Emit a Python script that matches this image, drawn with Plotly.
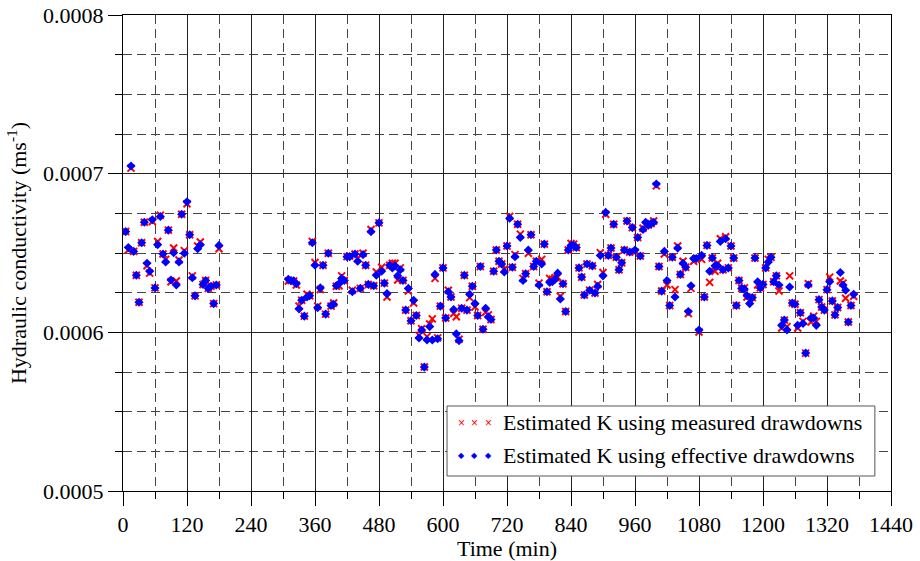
import plotly.graph_objects as go
import numpy as np

# Time (min)
time_min = [
    5, 10, 15, 20, 25, 30, 35, 40, 45, 50, 55, 60, 65, 70, 75, 80, 85, 90, 95, 100,
    105, 110, 115, 120, 125, 130, 135, 140, 145, 150, 155, 160, 165, 170, 175, 180,
    310, 315, 320, 325, 330, 335, 340, 345, 350, 355, 360, 365, 370, 375, 380, 385,
    390, 395, 400, 405, 410, 415, 420, 425, 430, 435, 440, 445, 450, 455, 460, 465,
    470, 475, 480, 485, 490, 495, 500, 505, 510, 515, 520, 525, 530, 535, 540, 545,
    550, 555, 560, 565, 570, 575, 580, 585, 590, 595, 600, 605, 610, 615, 620, 625,
    630, 635, 640, 645, 650, 655, 660, 665, 670, 675, 680, 685, 690, 695, 700, 705,
    710, 715, 720, 725, 730, 735, 740, 745, 750, 755, 760, 765, 770, 775, 780, 785,
    790, 795, 800, 805, 810, 815, 820, 825, 830, 835, 840, 845, 850, 855, 860, 865,
    870, 875, 880, 885, 890, 895, 900, 905, 910, 915, 920, 925, 930, 935, 940, 945,
    950, 955, 960, 965, 970, 975, 980, 985, 990, 995, 1000, 1005, 1010, 1015, 1020, 1025,
    1030, 1035, 1040, 1045, 1050, 1055, 1060, 1065, 1070, 1075, 1080, 1085, 1090, 1095, 1100, 1105,
    1110, 1115, 1120, 1125, 1130, 1135, 1140, 1145, 1150, 1155, 1160, 1165, 1170, 1175, 1180, 1185,
    1190, 1195, 1200, 1205, 1210, 1215, 1220, 1225, 1230, 1235, 1240, 1245, 1250, 1255, 1260, 1265,
    1270, 1275, 1280, 1285, 1290, 1295, 1300, 1305, 1310, 1315, 1320, 1325, 1330, 1335, 1340, 1345,
    1350, 1355, 1360, 1365, 1370,
]

# Estimated K using effective drawdowns (x 1e-6 m/s)
k_effective_e6 = [
    663.5, 653.5, 704.8, 651.0, 636.0, 619.0, 656.5, 669.4, 643.5, 638.5, 671.0, 628.0, 655.2, 673.0, 649.4, 644.4, 664.4, 633.0, 650.2, 629.8,
    644.4, 674.4, 649.8, 682.3, 661.5, 634.4, 623.0, 652.7, 655.2, 630.2, 632.7, 627.7, 629.0, 618.1, 629.8, 654.8,
    633.5, 632.7, 632.3, 630.6, 614.8, 620.2, 610.2, 622.3, 623.1, 656.5, 642.3, 615.6, 628.0, 642.3, 611.5, 649.8,
    616.9, 617.7, 629.4, 630.6, 634.0, 632.7, 647.7, 647.7, 625.6, 649.4, 644.8, 627.7, 649.0, 642.3, 630.2, 663.5,
    629.4, 636.0, 669.0, 638.5, 631.0, 624.4, 642.3, 640.6, 641.9, 635.6, 639.4, 632.7, 614.0, 627.7, 607.3, 620.2,
    610.6, 596.5, 601.5, 578.1, 595.2, 603.6, 595.2, 636.5, 596.0, 616.5, 640.6, 609.0, 625.6, 622.3, 614.4, 599.0,
    594.8, 615.2, 636.0, 614.0, 624.0, 629.0, 618.1, 610.6, 641.5, 601.9, 615.2, 609.8, 608.1, 638.5, 651.9, 644.8,
    643.1, 638.1, 654.4, 671.9, 641.0, 647.7, 668.1, 659.8, 632.7, 636.9, 651.9, 661.5, 641.5, 644.8, 629.8, 643.1,
    655.6, 625.6, 631.5, 631.9, 633.5, 637.3, 621.0, 630.6, 613.1, 651.9, 654.8, 654.8, 653.5, 640.6, 634.8, 623.5,
    643.1, 626.5, 641.9, 624.8, 629.0, 648.5, 635.6, 675.6, 648.5, 653.1, 668.1, 647.3, 639.4, 643.9, 651.9, 670.2,
    650.6, 666.0, 651.9, 659.8, 648.1, 664.8, 669.4, 667.7, 668.5, 669.4, 693.5, 641.5, 626.0, 651.0, 632.7, 616.9,
    647.3, 622.3, 653.1, 636.5, 643.5, 641.0, 613.1, 629.4, 646.5, 646.5, 601.5, 648.5, 622.3, 654.8, 638.5, 646.9,
    641.9, 641.9, 657.3, 639.4, 659.0, 640.6, 654.4, 646.9, 616.9, 632.7, 627.7, 627.3, 623.1, 618.1, 621.9, 646.9,
    631.9, 628.0, 630.2, 640.6, 644.4, 647.3, 631.9, 635.6, 629.8, 604.4, 607.7, 601.5, 628.6, 618.5, 617.7, 604.4,
    612.3, 605.6, 586.9, 629.8, 609.0, 609.0, 604.4, 620.6, 616.0, 614.0, 626.9, 631.9, 619.8, 611.0, 615.6, 637.7,
    629.8, 626.5, 606.5, 616.9, 624.0,
]

# Estimated K using measured drawdowns (x 1e-6 m/s)
k_measured_e6 = [
    663.5, 651.9, 703.5, 651.0, 636.0, 619.0, 656.5, 669.4, 642.0, 637.3, 669.8, 628.0, 657.3, 673.8, 649.4, 646.0, 664.4, 631.9, 653.1, 632.3,
    645.6, 674.4, 651.5, 681.0, 661.5, 635.6, 623.0, 654.4, 656.9, 630.2, 632.7, 627.7, 629.0, 618.1, 629.8, 652.7,
    632.3, 632.7, 632.3, 629.8, 616.5, 620.2, 610.2, 624.0, 623.1, 657.3, 644.0, 616.5, 627.0, 642.3, 611.5, 649.8,
    616.5, 618.5, 629.0, 629.4, 635.6, 632.7, 647.7, 648.1, 626.5, 649.4, 646.5, 627.7, 649.8, 642.3, 630.2, 664.8,
    629.4, 638.0, 669.0, 641.0, 631.0, 622.3, 642.3, 643.5, 643.5, 633.0, 640.6, 632.7, 614.0, 626.0, 607.3, 618.5,
    610.6, 598.1, 602.3, 578.1, 597.3, 605.2, 608.5, 634.0, 596.5, 616.5, 640.6, 609.0, 626.5, 622.3, 611.9, 609.8,
    595.6, 615.2, 636.0, 614.0, 621.9, 629.0, 616.0, 610.6, 641.5, 601.9, 612.7, 611.0, 608.1, 638.5, 651.9, 644.8,
    643.1, 639.8, 654.4, 673.1, 641.0, 649.0, 668.1, 661.9, 634.0, 636.9, 649.8, 661.5, 641.5, 644.8, 631.0, 646.0,
    655.6, 625.6, 634.0, 633.5, 634.4, 634.8, 622.7, 630.6, 613.1, 651.9, 656.0, 655.6, 653.5, 640.6, 634.8, 623.5,
    643.1, 626.5, 641.9, 624.8, 630.2, 650.2, 637.7, 674.4, 648.5, 653.1, 668.1, 647.3, 639.4, 643.9, 651.9, 670.2,
    650.6, 666.0, 650.6, 659.8, 648.1, 665.6, 667.3, 667.7, 668.5, 670.2, 692.3, 641.5, 626.0, 649.4, 629.8, 616.9,
    647.3, 626.9, 654.4, 636.5, 644.8, 641.0, 611.9, 627.7, 644.8, 646.5, 600.2, 646.0, 622.3, 654.8, 631.5, 646.9,
    638.5, 643.5, 659.0, 639.4, 660.2, 640.6, 654.4, 646.9, 616.9, 632.7, 627.7, 628.0, 622.3, 619.8, 621.9, 646.9,
    629.8, 628.0, 630.2, 640.6, 646.0, 647.3, 631.9, 635.6, 626.0, 602.7, 607.7, 603.6, 635.6, 618.5, 617.7, 602.7,
    612.3, 606.9, 586.9, 630.6, 606.5, 610.2, 606.9, 620.6, 616.0, 614.0, 626.9, 634.8, 619.8, 611.0, 615.6, 632.3,
    631.0, 621.5, 606.5, 616.9, 622.7,
]

x_ticks = [0, 120, 240, 360, 480, 600, 720, 840, 960, 1080, 1200, 1320, 1440]
y_ticks = [0.0005, 0.0006, 0.0007, 0.0008]
legend_names = ["Estimated K using measured drawdowns", "Estimated K using effective drawdowns"]

t = np.array(time_min)
k_eff = np.array(k_effective_e6) * 1e-6
k_meas = np.array(k_measured_e6) * 1e-6

FONT = "Liberation Serif"

fig = go.Figure()
fig.add_trace(go.Scatter(
    x=t, y=k_meas, mode="markers", name=legend_names[0],
    marker=dict(symbol="x-thin", size=7, color="#ff0000", line=dict(color="#ff0000", width=2)),
    showlegend=False,
))
fig.add_trace(go.Scatter(
    x=t, y=k_eff, mode="markers", name=legend_names[1],
    marker=dict(symbol="diamond", size=7, color="#0000ff", line=dict(width=0)),
    showlegend=False,
))

axis_common = dict(
    showline=True, linecolor="black", linewidth=1, mirror=True,
    ticks="outside", ticklen=14, tickwidth=1, tickcolor="black",
    showgrid=True, gridcolor="#222222", gridwidth=1,
    zeroline=False,
    tickfont=dict(family=FONT, size=22, color="black"),
)

fig.update_xaxes(
    range=[0, 1440], tickvals=x_ticks,
    minor=dict(dtick=60, ticks="outside", ticklen=7, tickcolor="black",
               showgrid=True, gridcolor="#444444", griddash="9px,5px", gridwidth=1),
    title=dict(text="Time (min)", font=dict(family=FONT, size=22, color="black"), standoff=6),
    **axis_common,
)
fig.update_yaxes(
    range=[0.0005, 0.0008], tickvals=y_ticks, tickformat=".4f",
    minor=dict(dtick=0.000025, ticks="outside", ticklen=7, tickcolor="black",
               showgrid=True, gridcolor="#444444", griddash="9px,5px", gridwidth=1),
    title=dict(text="Hydraulic conductivity (ms<sup>-1</sup>)",
               font=dict(family=FONT, size=22, color="black"), standoff=10),
    **axis_common,
)

# Legend box drawn manually to show three sample markers per entry
fig.add_shape(type="rect", xref="paper", yref="paper",
              x0=0.4219, x1=0.979, y0=0.0315, y1=0.1786,
              line=dict(color="#555555", width=1), fillcolor="white", layer="above")

rows_y = [0.1429, 0.0756]
sym = [("×", "#ff0000", 12, "Liberation Sans"), ("◆", "#0000ff", 8, "DejaVu Sans")]
for i, name in enumerate(legend_names):
    fig.add_annotation(x=0.492, y=rows_y[i], xref="paper", yref="paper",
                       text=name, showarrow=False, xanchor="left", yanchor="middle",
                       font=dict(family=FONT, size=22, color="black"))
    s, c, fs, ff = sym[i]
    for dx in (0.4409, 0.4583, 0.4753):
        fig.add_annotation(x=dx, y=rows_y[i], xref="paper", yref="paper",
                           text=s, showarrow=False, xanchor="center", yanchor="middle",
                           font=dict(family=ff, size=fs, color=c))

fig.update_layout(
    width=920, height=561,
    margin=dict(l=123, r=29, t=15, b=70, autoexpand=False),
    paper_bgcolor="white", plot_bgcolor="white",
    font=dict(family=FONT, size=22, color="black"),
    showlegend=False,
)

fig.write_html("out.html")
